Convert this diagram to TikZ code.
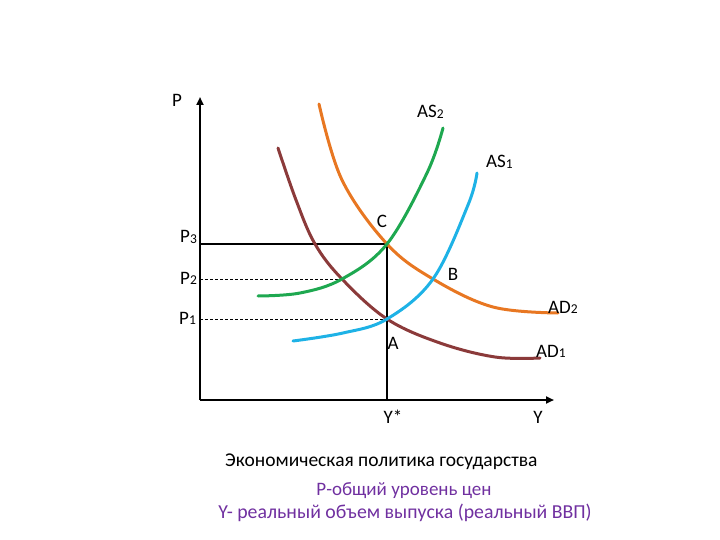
\documentclass[tikz,border=0pt]{standalone}
\usepackage{fontspec}
\setmainfont{Carlito}
\usetikzlibrary{arrows.meta}
\definecolor{adone}{RGB}{139,58,58}
\definecolor{adtwo}{RGB}{232,119,34}
\definecolor{astwo}{RGB}{30,168,80}
\definecolor{asone}{RGB}{30,178,230}
\definecolor{purp}{RGB}{112,48,160}
\newcommand{\lbsub}[2]{#1{\fontsize{13.5}{13.5}\selectfont\raisebox{-0.5pt}{#2}}}
\begin{document}
\begin{tikzpicture}[x=1pt,y=-1pt,
  lbl/.style={font=\fontsize{19}{19}\selectfont,inner sep=0pt,anchor=base},
  lbw/.style={font=\fontsize{19}{19}\selectfont,inner sep=0pt,anchor=base west},
  axis/.style={line width=2pt,-{Triangle[length=8pt,width=7pt]}},
  curve/.style={line width=3pt,line cap=round},
  guide/.style={line width=1.2pt},
  dguide/.style={line width=0.9pt,dash pattern=on 3pt off 2pt},
  captext/.style={inner sep=0pt,anchor=base}]
\useasboundingbox (0,0) rectangle (720,540);
\coordinate (O) at (200,400);
\coordinate (Ptop) at (200,97);
\coordinate (Yend) at (554,400);
\coordinate (C) at (387,244);
\coordinate (A) at (387,319);
\coordinate (P3) at (200,244);
\coordinate (P2) at (200,279);
\coordinate (P1) at (200,319);
\coordinate (Bp) at (342,279);
\coordinate (Ys) at (387,400);
% guides
\draw[guide] (P3) -- (C) -- (Ys);
\draw[dguide] (P2) -- (Bp);
\draw[dguide] (P1) -- (A);
% axes
\draw[axis] (O) -- (Ptop);
\draw[axis] (O) -- (Yend);
% curves
\draw[curve,adone] plot[smooth,tension=0.6] coordinates {(278,148) (296,200) (315,244) (342,279) (387,319) (440,343) (495,357) (540,358)};
\draw[curve,adtwo] plot[smooth,tension=0.6] coordinates {(319,104) (342,180) (387,244) (433,279) (493,307) (558,313)};
\draw[curve,astwo] plot[smooth,tension=0.6] coordinates {(258,296) (300,293) (342,279) (387,244) (427,173) (443,128)};
\draw[curve,asone] plot[smooth,tension=0.6] coordinates {(293,341) (343,333) (387,319) (433,279) (468,205) (477,173)};
% labels
\node[lbl] (lP) at (177,107) {P};
\node[lbw] (lP3) at (180,243) {\lbsub{P}{3}};
\node[lbw] (lP2) at (180,284) {\lbsub{P}{2}};
\node[lbw] (lP1) at (179,324) {\lbsub{P}{1}};
\node[lbl] (lYs) at (393,423) {Y*};
\node[lbl] (lY) at (538,423) {Y};
\node[lbl] (lC) at (382,228) {C};
\node[lbl] (lB) at (453,280) {B};
\node[lbl] (lA) at (393,349) {A};
\node[lbw] (lAD2) at (548,313) {\lbsub{AD}{2}};
\node[lbw] (lAD1) at (536,357) {\lbsub{AD}{1}};
\node[lbw] (lAS2) at (417,118) {\lbsub{AS}{2}};
\node[lbw] (lAS1) at (486,168) {\lbsub{AS}{1}};
\node[captext,anchor=base west,font=\fontsize{19.5}{20}\selectfont] (t1) at (225,466) {Экономическая политика государства};
\node[captext,text=purp,font=\fontsize{19}{20}\selectfont] (t2) at (404,495) {Р-общий уровень цен};
\node[captext,text=purp,font=\fontsize{19.8}{20}\selectfont] (t3) at (405,518) {Y- реальный объем выпуска (реальный ВВП)};
\end{tikzpicture}
\end{document}
